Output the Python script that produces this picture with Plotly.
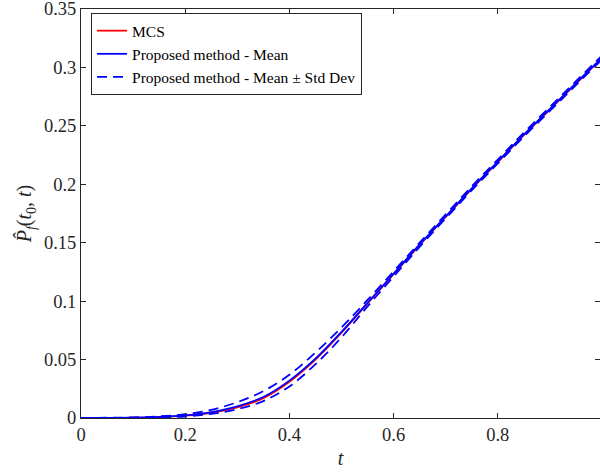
import plotly.graph_objects as go

t = [0.0, 0.05, 0.1, 0.15, 0.2, 0.25, 0.3, 0.35, 0.4, 0.45, 0.5,
     0.55, 0.6, 0.65, 0.7, 0.75, 0.8, 0.85, 0.9, 0.95, 1.0]

mcs = [0.0, 0.0001, 0.0003, 0.0008, 0.002, 0.0045, 0.009, 0.017, 0.031, 0.050, 0.073,
       0.098, 0.123, 0.148, 0.172, 0.196, 0.219, 0.242, 0.264, 0.286, 0.308]

mean = [0.0, 0.0001, 0.0003, 0.0009, 0.0022, 0.005, 0.010, 0.018, 0.032, 0.0508, 0.0737,
        0.0985, 0.1235, 0.1485, 0.1725, 0.1965, 0.2195, 0.2425, 0.2645, 0.2865, 0.3085]

upper = [0.0, 0.0002, 0.0005, 0.0014, 0.0033, 0.007, 0.0135, 0.023, 0.037, 0.056, 0.0775,
         0.101, 0.1255, 0.150, 0.1742, 0.1982, 0.2212, 0.2442, 0.2662, 0.2882, 0.3102]

lower = [0.0, 0.0, 0.0001, 0.0005, 0.0013, 0.0035, 0.0075, 0.0145, 0.027, 0.046, 0.069,
         0.0955, 0.121, 0.1465, 0.1708, 0.1948, 0.2178, 0.2408, 0.2628, 0.2848, 0.3068]

names = ["MCS", "Proposed method - Mean", "Proposed method - Mean \u00b1 Std Dev"]
y_ticks = [0, 0.05, 0.1, 0.15, 0.2, 0.25, 0.3, 0.35]
y_labels = ["0", "0.05", "0.1", "0.15", "0.2", "0.25", "0.3", "0.35"]
x_ticks = [0, 0.2, 0.4, 0.6, 0.8, 1.0]
x_labels = ["0", "0.2", "0.4", "0.6", "0.8", "1"]

FONT = "'Liberation Serif', 'Times New Roman', Times, serif"
AX = "#262626"

fig = go.Figure()
fig.add_trace(go.Scatter(x=t, y=mcs, mode="lines", name=names[0],
                         line=dict(color="#ff0000", width=1.8, shape="spline")))
fig.add_trace(go.Scatter(x=t, y=mean, mode="lines", name=names[1],
                         line=dict(color="#0000ff", width=1.8, shape="spline")))
fig.add_trace(go.Scatter(x=t, y=upper, mode="lines", name=names[2],
                         line=dict(color="#0000ff", width=1.8, shape="spline", dash="10px,6px")))
fig.add_trace(go.Scatter(x=t, y=lower, mode="lines", name=names[2], showlegend=False,
                         line=dict(color="#0000ff", width=1.8, shape="spline", dash="10px,6px")))

fig.update_layout(
    width=600, height=476,
    margin=dict(l=81, r=0, t=9, b=58, autoexpand=False),
    paper_bgcolor="white", plot_bgcolor="white",
    font=dict(family=FONT, size=18, color=AX),
    showlegend=True,
    legend=dict(x=0.0193, y=0.99, xanchor="left", yanchor="top",
                bgcolor="white", bordercolor=AX, borderwidth=1,
                font=dict(family=FONT, size=15.5, color="black"),
                tracegroupgap=0, itemwidth=30),
    xaxis=dict(range=[0, 0.9962], tickvals=x_ticks, ticktext=x_labels,
               ticks="inside", ticklen=5, tickcolor=AX, showline=True, linecolor=AX,
               linewidth=1, mirror="ticks", showgrid=False, zeroline=False,
               ticklabeloverflow="allow",
               tickfont=dict(family=FONT, size=18.5, color=AX),
               title=dict(text="<i>t</i>", font=dict(family=FONT, size=20, color=AX), standoff=6)),
    yaxis=dict(range=[0, 0.35001], tickvals=y_ticks, ticktext=y_labels,
               ticks="inside", ticklen=5, tickcolor=AX, showline=True, linecolor=AX,
               linewidth=1, mirror="ticks", showgrid=False, zeroline=False,
               ticklabeloverflow="allow",
               tickfont=dict(family=FONT, size=18.5, color=AX),
               title=dict(text="<i>P\u0302</i><sub><i>f</i></sub>(<i>t</i><sub>0</sub>, <i>t</i>)",
                          font=dict(family=FONT, size=20, color=AX), standoff=6)),
)

fig.write_html("out.html")
